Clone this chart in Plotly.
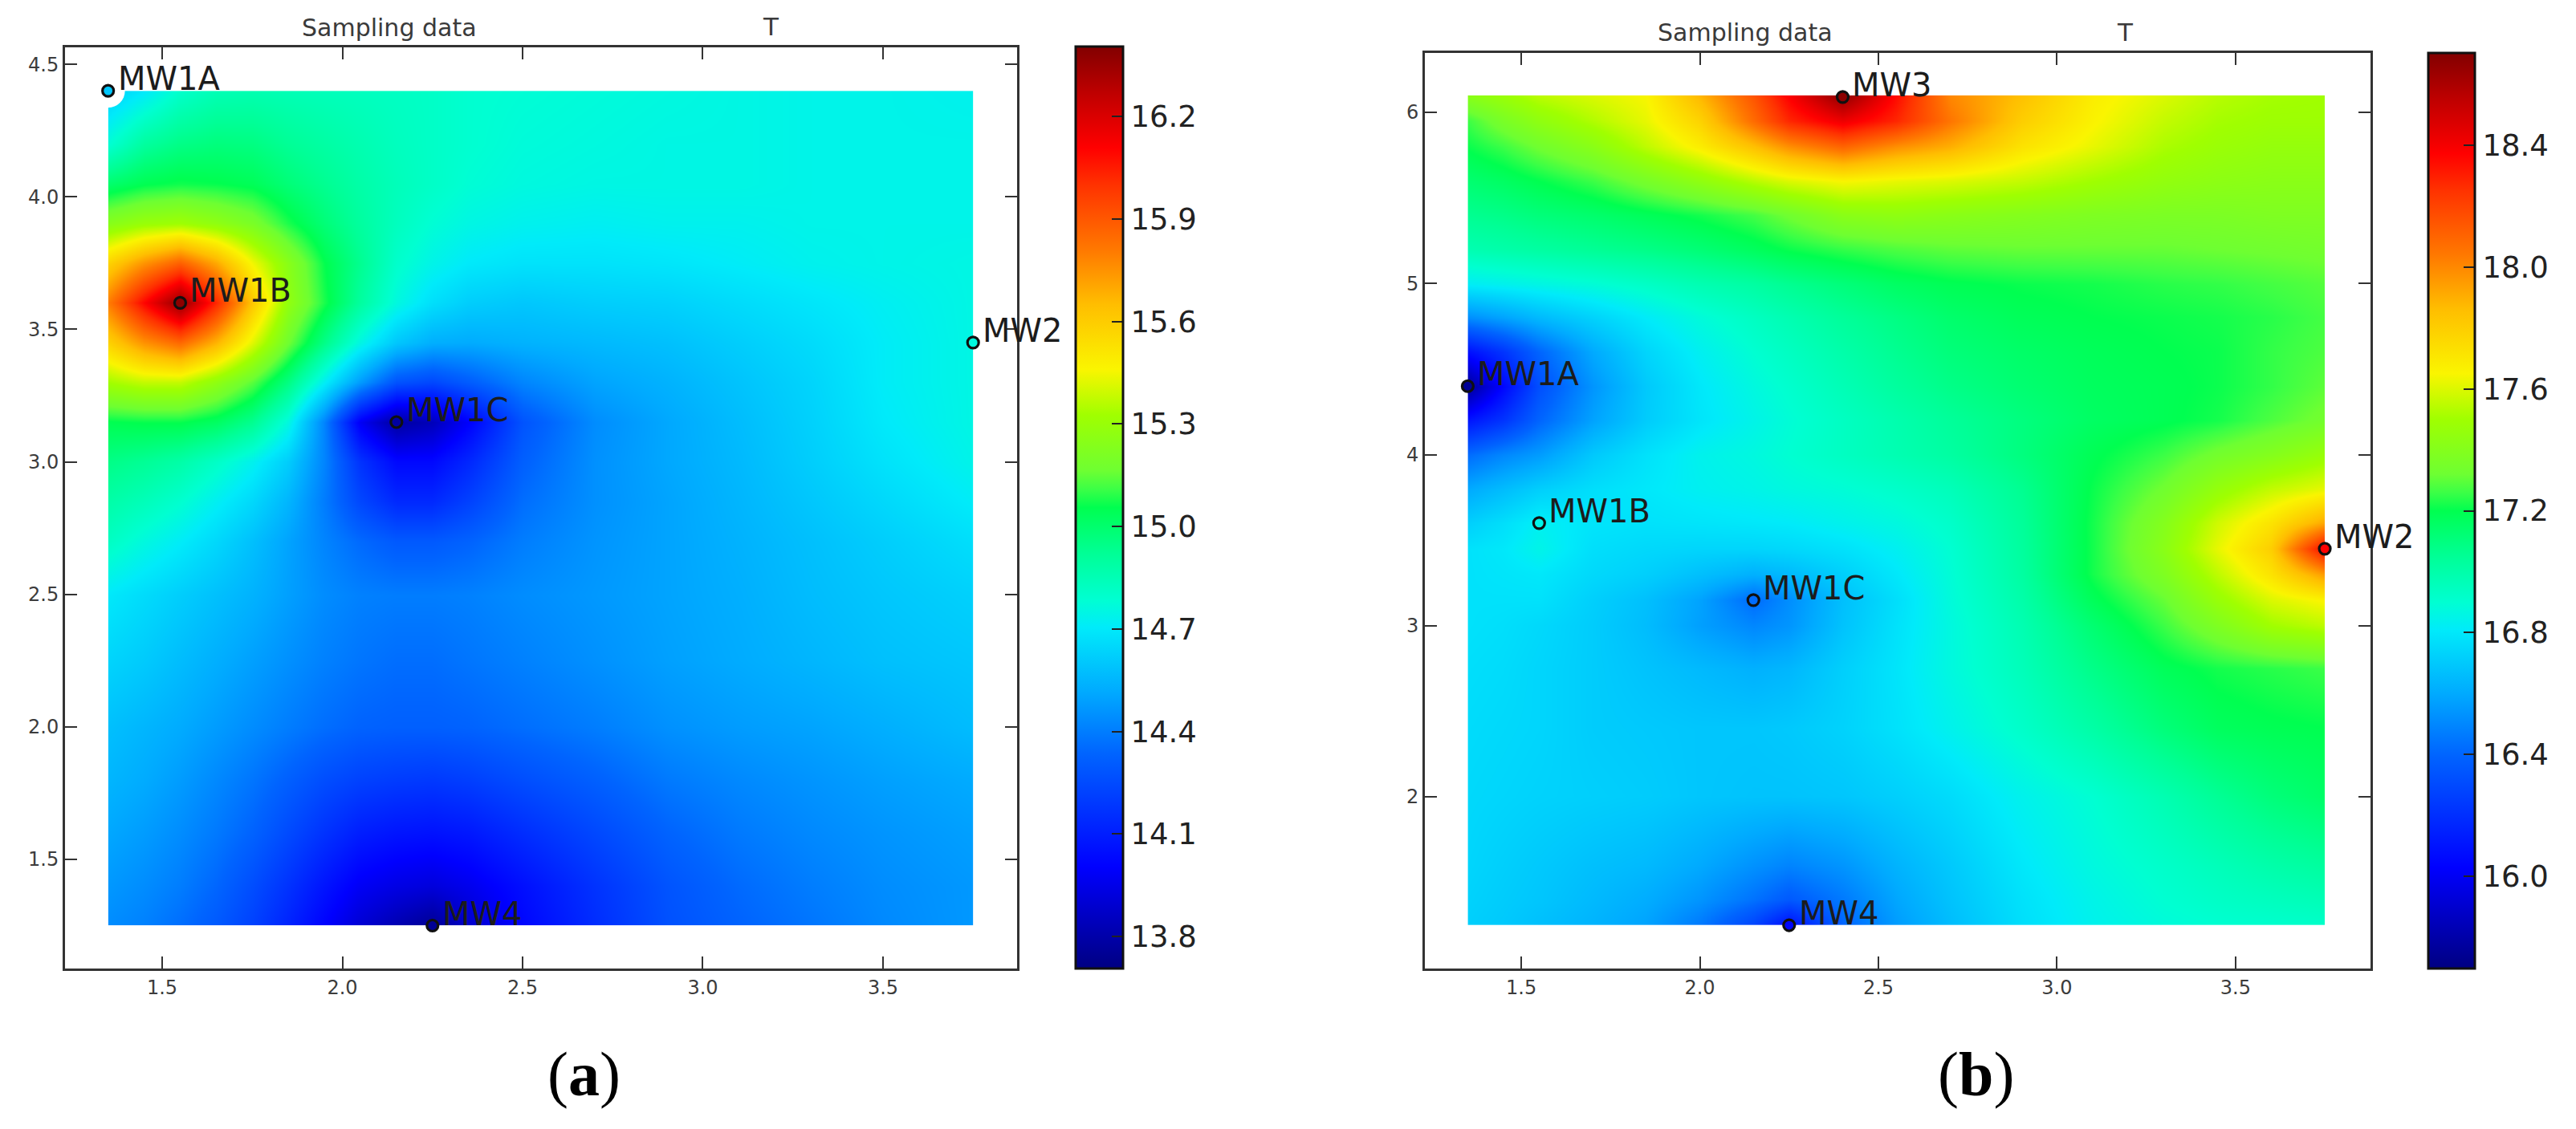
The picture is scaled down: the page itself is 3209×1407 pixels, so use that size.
import plotly.graph_objects as go

W, H = 3209, 1407

# ---------- data ----------
wells_a = ["MW1A", "MW1B", "MW1C", "MW2", "MW4"]
wells_a_x = [1.35, 1.55, 2.15, 3.75, 2.25]
wells_a_y = [4.40, 3.60, 3.15, 3.45, 1.25]
wells_a_t = [14.60, 16.38, 13.78, 14.76, 13.75]

wells_b = ["MW1A", "MW1B", "MW1C", "MW2", "MW3", "MW4"]
wells_b_x = [1.35, 1.55, 2.15, 3.75, 2.40, 2.25]
wells_b_y = [4.40, 3.60, 3.15, 3.45, 6.09, 1.25]
wells_b_t = [15.75, 16.85, 16.42, 18.37, 18.68, 16.05]

grid_a_x = [1.35, 1.45, 1.55, 1.65, 1.75, 1.85, 1.95, 2.05, 2.15, 2.25, 2.35, 2.5, 2.7, 2.9, 3.1, 3.3, 3.5, 3.75]
grid_a_y = [1.25, 1.4, 1.6, 1.8, 2.0, 2.25, 2.5, 2.7, 2.85, 3.0, 3.15, 3.3, 3.45, 3.6, 3.75, 3.9, 4.05, 4.2, 4.4]
temp_a = [
    [14.44, 14.41, 14.36, 14.30, 14.22, 14.12, 14.01, 13.90, 13.82, 13.75, 13.88, 14.02, 14.15, 14.27, 14.33, 14.38, 14.43, 14.47],
    [14.47, 14.44, 14.40, 14.34, 14.26, 14.17, 14.07, 13.98, 13.94, 13.92, 13.96, 14.05, 14.17, 14.28, 14.35, 14.40, 14.44, 14.47],
    [14.51, 14.48, 14.44, 14.39, 14.33, 14.25, 14.17, 14.10, 14.07, 14.06, 14.08, 14.15, 14.24, 14.33, 14.39, 14.43, 14.46, 14.49],
    [14.55, 14.52, 14.48, 14.43, 14.38, 14.32, 14.26, 14.22, 14.20, 14.19, 14.21, 14.26, 14.32, 14.39, 14.43, 14.46, 14.49, 14.52],
    [14.58, 14.55, 14.52, 14.48, 14.44, 14.40, 14.36, 14.33, 14.32, 14.32, 14.33, 14.36, 14.40, 14.45, 14.48, 14.50, 14.53, 14.57],
    [14.64, 14.61, 14.57, 14.53, 14.49, 14.45, 14.41, 14.38, 14.36, 14.36, 14.38, 14.41, 14.45, 14.49, 14.52, 14.55, 14.58, 14.60],
    [14.70, 14.66, 14.62, 14.58, 14.54, 14.49, 14.44, 14.41, 14.40, 14.40, 14.41, 14.44, 14.47, 14.50, 14.53, 14.57, 14.60, 14.63],
    [14.82, 14.76, 14.71, 14.65, 14.58, 14.50, 14.42, 14.35, 14.30, 14.30, 14.33, 14.40, 14.46, 14.50, 14.54, 14.58, 14.62, 14.67],
    [14.88, 14.84, 14.79, 14.72, 14.65, 14.55, 14.40, 14.24, 14.14, 14.14, 14.22, 14.36, 14.45, 14.50, 14.55, 14.60, 14.65, 14.71],
    [14.95, 14.92, 14.88, 14.81, 14.73, 14.62, 14.42, 14.17, 14.03, 14.03, 14.13, 14.32, 14.45, 14.51, 14.56, 14.62, 14.68, 14.74],
    [15.05, 15.06, 15.06, 15.02, 14.93, 14.76, 14.42, 13.98, 13.78, 13.84, 14.00, 14.28, 14.44, 14.51, 14.57, 14.63, 14.70, 14.75],
    [15.33, 15.38, 15.38, 15.27, 15.14, 14.96, 14.72, 14.48, 14.28, 14.24, 14.31, 14.42, 14.50, 14.54, 14.59, 14.64, 14.71, 14.75],
    [15.58, 15.75, 15.85, 15.67, 15.42, 15.17, 14.95, 14.75, 14.60, 14.53, 14.52, 14.54, 14.56, 14.58, 14.62, 14.66, 14.71, 14.75],
    [15.80, 16.10, 16.38, 16.02, 15.62, 15.28, 15.08, 14.90, 14.76, 14.67, 14.62, 14.60, 14.62, 14.63, 14.66, 14.69, 14.72, 14.75],
    [15.58, 15.75, 15.88, 15.70, 15.45, 15.25, 15.06, 14.93, 14.80, 14.74, 14.70, 14.68, 14.68, 14.69, 14.71, 14.73, 14.74, 14.75],
    [15.24, 15.30, 15.32, 15.27, 15.20, 15.08, 14.98, 14.90, 14.83, 14.78, 14.75, 14.73, 14.72, 14.73, 14.73, 14.74, 14.74, 14.74],
    [15.00, 15.05, 15.07, 15.06, 15.04, 14.98, 14.93, 14.88, 14.84, 14.81, 14.78, 14.76, 14.75, 14.75, 14.75, 14.74, 14.74, 14.74],
    [14.78, 14.90, 14.95, 14.97, 14.96, 14.92, 14.89, 14.86, 14.83, 14.81, 14.79, 14.77, 14.76, 14.75, 14.75, 14.74, 14.74, 14.74],
    [14.62, 14.70, 14.80, 14.85, 14.86, 14.85, 14.84, 14.83, 14.82, 14.81, 14.79, 14.78, 14.77, 14.76, 14.75, 14.74, 14.74, 14.73],
]

grid_b_x = [1.35, 1.45, 1.55, 1.7, 1.85, 2.0, 2.15, 2.25, 2.4, 2.55, 2.7, 2.9, 3.1, 3.3, 3.45, 3.6, 3.75]
grid_b_y = [1.25, 1.4, 1.6, 2.0, 2.4, 2.75, 3.0, 3.15, 3.3, 3.45, 3.6, 3.8, 4.0, 4.2, 4.4, 4.6, 4.8, 5.0, 5.2, 5.4, 5.6, 5.8, 5.95, 6.1]
temp_b = [
    [16.72, 16.70, 16.67, 16.63, 16.58, 16.46, 16.28, 16.08, 16.40, 16.56, 16.66, 16.77, 16.84, 16.88, 16.90, 16.91, 16.92],
    [16.73, 16.71, 16.69, 16.65, 16.61, 16.54, 16.44, 16.36, 16.46, 16.59, 16.68, 16.78, 16.85, 16.90, 16.93, 16.95, 16.97],
    [16.74, 16.72, 16.70, 16.67, 16.65, 16.60, 16.53, 16.49, 16.54, 16.63, 16.70, 16.80, 16.87, 16.92, 16.96, 17.00, 17.03],
    [16.75, 16.74, 16.73, 16.72, 16.71, 16.69, 16.68, 16.68, 16.69, 16.72, 16.76, 16.84, 16.90, 16.98, 17.05, 17.11, 17.15],
    [16.76, 16.75, 16.74, 16.71, 16.70, 16.69, 16.69, 16.70, 16.73, 16.78, 16.84, 16.92, 17.01, 17.11, 17.17, 17.19, 17.20],
    [16.77, 16.76, 16.74, 16.71, 16.68, 16.65, 16.62, 16.64, 16.72, 16.79, 16.87, 16.96, 17.08, 17.18, 17.22, 17.24, 17.26],
    [16.78, 16.77, 16.75, 16.71, 16.66, 16.57, 16.50, 16.54, 16.68, 16.78, 16.87, 16.98, 17.13, 17.26, 17.38, 17.50, 17.55],
    [16.78, 16.78, 16.78, 16.72, 16.67, 16.58, 16.42, 16.52, 16.67, 16.77, 16.88, 17.00, 17.18, 17.31, 17.47, 17.60, 17.66],
    [16.78, 16.79, 16.80, 16.75, 16.72, 16.67, 16.62, 16.65, 16.72, 16.80, 16.89, 17.02, 17.22, 17.38, 17.55, 17.72, 17.95],
    [16.78, 16.80, 16.85, 16.77, 16.75, 16.74, 16.74, 16.75, 16.78, 16.83, 16.90, 17.03, 17.22, 17.42, 17.62, 17.80, 18.37],
    [16.72, 16.77, 16.83, 16.79, 16.78, 16.79, 16.80, 16.81, 16.84, 16.87, 16.92, 17.04, 17.22, 17.40, 17.58, 17.72, 17.92],
    [16.60, 16.66, 16.72, 16.77, 16.80, 16.83, 16.85, 16.87, 16.89, 16.92, 16.96, 17.06, 17.21, 17.33, 17.46, 17.56, 17.62],
    [16.42, 16.50, 16.56, 16.70, 16.78, 16.84, 16.87, 16.90, 16.94, 16.98, 17.02, 17.10, 17.19, 17.26, 17.34, 17.40, 17.47],
    [16.10, 16.22, 16.40, 16.58, 16.71, 16.79, 16.85, 16.89, 16.94, 16.99, 17.04, 17.10, 17.16, 17.19, 17.22, 17.28, 17.34],
    [15.75, 16.05, 16.32, 16.54, 16.70, 16.80, 16.87, 16.91, 16.97, 17.03, 17.08, 17.13, 17.17, 17.19, 17.21, 17.25, 17.30],
    [16.08, 16.22, 16.40, 16.60, 16.74, 16.83, 16.90, 16.94, 17.00, 17.06, 17.11, 17.15, 17.18, 17.20, 17.21, 17.25, 17.28],
    [16.52, 16.58, 16.65, 16.73, 16.81, 16.88, 16.94, 16.98, 17.04, 17.09, 17.14, 17.18, 17.20, 17.21, 17.22, 17.24, 17.27],
    [16.82, 16.84, 16.86, 16.89, 16.93, 16.98, 17.02, 17.06, 17.11, 17.16, 17.19, 17.21, 17.22, 17.24, 17.25, 17.27, 17.29],
    [16.98, 17.00, 17.02, 17.05, 17.08, 17.12, 17.17, 17.21, 17.25, 17.28, 17.30, 17.31, 17.31, 17.31, 17.32, 17.33, 17.34],
    [17.06, 17.08, 17.11, 17.14, 17.18, 17.22, 17.27, 17.33, 17.42, 17.44, 17.42, 17.40, 17.38, 17.37, 17.37, 17.38, 17.38],
    [17.13, 17.16, 17.20, 17.26, 17.35, 17.44, 17.54, 17.60, 17.65, 17.62, 17.60, 17.56, 17.50, 17.45, 17.43, 17.42, 17.42],
    [17.21, 17.26, 17.33, 17.42, 17.55, 17.68, 17.85, 17.98, 18.10, 17.98, 17.90, 17.72, 17.62, 17.52, 17.48, 17.46, 17.46],
    [17.26, 17.36, 17.44, 17.53, 17.62, 17.78, 18.08, 18.28, 18.42, 18.28, 18.05, 17.80, 17.66, 17.56, 17.51, 17.49, 17.49],
    [17.42, 17.48, 17.55, 17.60, 17.65, 17.88, 18.15, 18.38, 18.68, 18.35, 18.00, 17.85, 17.68, 17.60, 17.54, 17.51, 17.50],
]

ticks_x = [1.5, 2.0, 2.5, 3.0, 3.5]
ticks_a_y = [1.5, 2.0, 2.5, 3.0, 3.5, 4.0, 4.5]
ticks_b_y = [2, 3, 4, 5, 6]
ticks_a_c = [13.8, 14.1, 14.4, 14.7, 15.0, 15.3, 15.6, 15.9, 16.2]
ticks_b_c = [16.0, 16.4, 16.8, 17.2, 17.6, 18.0, 18.4]

# ---------- styles ----------
COLORSCALE = [
    [0.00, "rgb(0,0,130)"], [0.11, "rgb(0,0,255)"], [0.233, "rgb(0,100,255)"],
    [0.30, "rgb(0,170,255)"], [0.37, "rgb(0,235,250)"], [0.40, "rgb(0,255,210)"],
    [0.45, "rgb(0,255,150)"], [0.50, "rgb(0,255,80)"], [0.52, "rgb(60,255,70)"],
    [0.54, "rgb(110,255,50)"], [0.60, "rgb(160,255,0)"], [0.65, "rgb(250,245,0)"],
    [0.72, "rgb(255,190,0)"], [0.78, "rgb(255,120,0)"], [0.85, "rgb(255,50,0)"],
    [0.89, "rgb(255,0,0)"], [0.95, "rgb(190,0,0)"], [1.00, "rgb(130,0,0)"],
]
INK = "#333333"
LABEL = "#1c1c1c"
FONT = "DejaVu Sans"

fig = go.Figure()


def add_panel(gx, gy, gz, names, wx, wy, wt, xa, ya, ca, notch=False):
    fig.add_trace(go.Contour(
        x=gx, y=gy, z=gz, coloraxis=ca, xaxis=xa, yaxis=ya,
        contours=dict(coloring="heatmap", showlines=False),
        line=dict(width=0), hoverinfo="skip",
    ))
    if notch:
        # white notch around the corner well of panel (a)
        fig.add_trace(go.Scatter(
            x=wx[:1], y=wy[:1], mode="markers", showlegend=False, xaxis=xa, yaxis=ya,
            marker=dict(size=42, color="white"), hoverinfo="skip",
        ))
    fig.add_trace(go.Scatter(
        x=wx, y=wy, mode="markers", xaxis=xa, yaxis=ya, showlegend=False,
        marker=dict(size=14, color=wt, coloraxis=ca, line=dict(color="#101010", width=3.2)),
        cliponaxis=False, text=names,
    ))
    for n, x, y in zip(names, wx, wy):
        fig.add_annotation(
            x=x, y=y, xref=xa, yref=ya, text=n, showarrow=False,
            xanchor="left", yanchor="bottom", xshift=10, yshift=-10,
            font=dict(family=FONT, size=40, color=LABEL),
        )


add_panel(grid_a_x, grid_a_y, temp_a, wells_a, wells_a_x, wells_a_y, wells_a_t, "x", "y", "coloraxis", notch=True)
add_panel(grid_b_x, grid_b_y, temp_b, wells_b, wells_b_x, wells_b_y, wells_b_t, "x2", "y2", "coloraxis2")

axis_style = dict(
    showline=True, linecolor=INK, linewidth=3, mirror="ticks", ticks="inside", ticklen=15,
    tickwidth=2, tickcolor=INK, showgrid=False, zeroline=False,
    tickfont=dict(family=FONT, size=24, color="#3c3c3c"),
)


def colorbar(left, right, top, bottom, vals):
    return dict(
        x=left / W, xanchor="left", xpad=0, ypad=0, thickness=right - left, thicknessmode="pixels",
        y=1 - bottom / H, yanchor="bottom", len=(bottom - top) / H, lenmode="fraction",
        outlinecolor="#111111", outlinewidth=3, ticks="inside", ticklen=15, tickwidth=2, tickcolor="#222222",
        tickvals=vals, ticktext=[f"{v:.1f}" for v in vals],
        tickfont=dict(family=FONT, size=37, color="#222222"),
    )


fig.update_layout(
    width=W, height=H, autosize=False, margin=dict(l=0, r=0, t=0, b=0),
    paper_bgcolor="white", plot_bgcolor="white", showlegend=False,
    xaxis=dict(domain=[81 / W, 1267 / W], range=[1.2305, 3.872], tickvals=ticks_x,
               ticktext=[f"{v:.1f}" for v in ticks_x], **axis_style),
    yaxis=dict(domain=[1 - 1207 / H, 1 - 59 / H], range=[1.088, 4.564], tickvals=ticks_a_y,
               ticktext=[f"{v:.1f}" for v in ticks_a_y], **axis_style),
    xaxis2=dict(domain=[1775 / W, 2953 / W], range=[1.230, 3.878], anchor="y2", tickvals=ticks_x,
                ticktext=[f"{v:.1f}" for v in ticks_x], **axis_style),
    yaxis2=dict(domain=[1 - 1207 / H, 1 - 66 / H], range=[0.997, 6.347], anchor="x2", tickvals=ticks_b_y,
                **axis_style),
    coloraxis=dict(colorscale=COLORSCALE, cmin=13.706, cmax=16.405,
                   colorbar=colorbar(1340, 1399, 58, 1207, ticks_a_c)),
    coloraxis2=dict(colorscale=COLORSCALE, cmin=15.697, cmax=18.703,
                    colorbar=colorbar(3025, 3083, 66, 1207, ticks_b_c)),
)


def page_text(text, px, py, size, family=FONT, color="#3a3a3a"):
    fig.add_annotation(x=px / W, y=1 - py / H, xref="paper", yref="paper", text=text, showarrow=False,
                       xanchor="center", yanchor="middle", font=dict(family=family, size=size, color=color))


page_text("Sampling data", 485, 34, 30)
page_text("T", 960, 33, 31)
page_text("Sampling data", 2174, 41, 30)
page_text("T", 2647, 40, 31)
page_text("(<b>a</b>)", 727, 1338, 78, family="Liberation Serif", color="#000000")
page_text("(<b>b</b>)", 2461, 1338, 78, family="Liberation Serif", color="#000000")

fig.write_html("out.html", config={"displayModeBar": False},
               post_script="document.body.style.margin='0';")
